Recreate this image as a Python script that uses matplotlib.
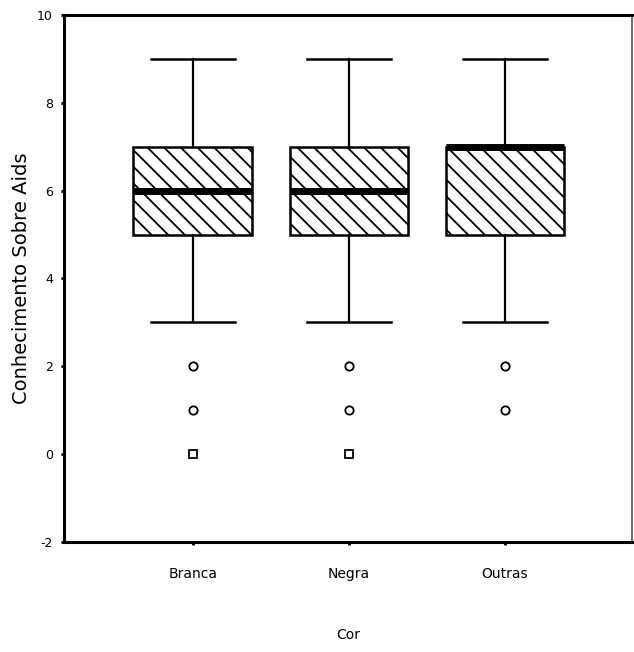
import matplotlib
matplotlib.use("Agg")
import matplotlib.pyplot as plt

plt.rcParams['hatch.linewidth'] = 1.3

categories = ["Branca", "Negra", "Outras"]
q1 = [5, 5, 5]
medians = [6, 6, 7]
q3 = [7, 7, 7]
whisker_low = [3, 3, 3]
whisker_high = [9, 9, 9]
outliers = [[2, 1], [2, 1], [2, 1]]
extremes = [[0], [0], []]

yticks = [-2, 0, 2, 4, 6, 8, 10]

fig = plt.figure(figsize=(6.34, 6.52), dpi=100)
ax = fig.add_axes([0.101, 0.169, 0.896, 0.808])

positions = [1, 2, 3]
stats = []
for i, name in enumerate(categories):
    stats.append(dict(label=name, med=medians[i], q1=q1[i], q3=q3[i],
                      whislo=whisker_low[i], whishi=whisker_high[i], fliers=[]))

bp = ax.bxp(stats, positions=positions, widths=0.76, patch_artist=True,
            showfliers=False,
            boxprops=dict(facecolor="white", edgecolor="black", linewidth=1.8, hatch="\\\\"),
            medianprops=dict(color="black", linewidth=5, solid_capstyle="butt"),
            whiskerprops=dict(color="black", linewidth=1.6),
            capprops=dict(color="black", linewidth=1.8),
            capwidths=0.54)

for p, outs, ext in zip(positions, outliers, extremes):
    if outs:
        ax.plot([p] * len(outs), outs, linestyle="none", marker="o", markersize=6,
                markerfacecolor="white", markeredgecolor="black", markeredgewidth=1.3)
    if ext:
        ax.plot([p] * len(ext), ext, linestyle="none", marker="s", markersize=5.5,
                markerfacecolor="white", markeredgecolor="black", markeredgewidth=1.3)

ax.set_xlim(0.175, 3.815)
ax.set_ylim(-2, 10)
ax.set_yticks(yticks)
ax.set_yticklabels([str(v) for v in yticks], fontsize=9)
ax.set_xticks(positions)
ax.set_xticklabels(categories, fontsize=10)
ax.tick_params(axis="both", direction="out", length=2, width=2, pad=6)
ax.tick_params(axis="x", pad=16)

ax.set_ylabel("Conhecimento Sobre Aids", fontsize=14, labelpad=4)
ax.set_xlabel("Cor", fontsize=10, labelpad=34)

for side in ["left", "bottom", "top"]:
    ax.spines[side].set_linewidth(2.2)
ax.spines["right"].set_linewidth(1.2)
ax.spines["right"].set_color("#555555")

fig.savefig("out.png", dpi=100, facecolor="white")
